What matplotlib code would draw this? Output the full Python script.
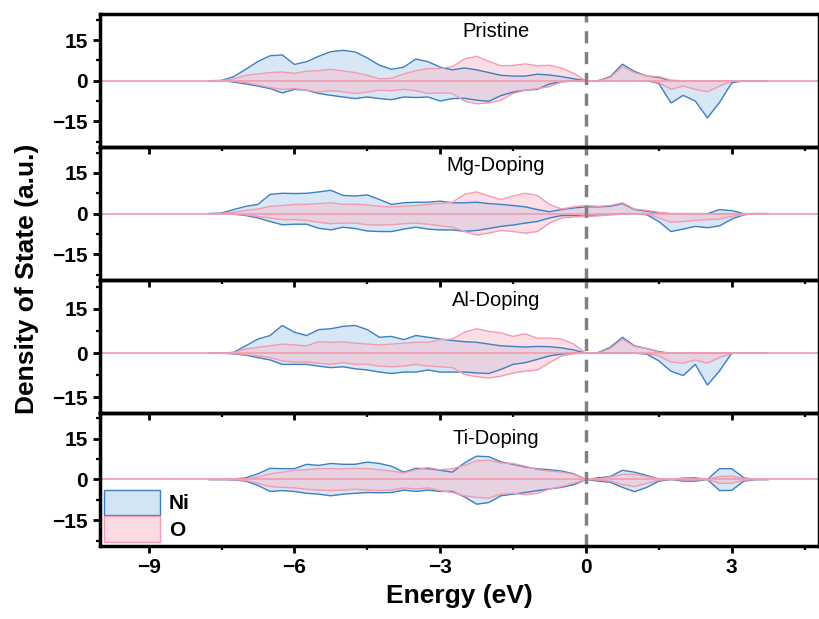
import numpy as np
import matplotlib
matplotlib.use("Agg")
import matplotlib.pyplot as plt
from matplotlib.ticker import MultipleLocator
from matplotlib.patches import Patch

plt.rcParams['font.family'] = ['Liberation Sans', 'DejaVu Sans']

# energy grid (eV), 0.25 eV step
energy = np.arange(-7.75, 3.76, 0.25)

panels = ["Pristine", "Mg-Doping", "Al-Doping", "Ti-Doping"]

# Pristine
ni_up_pristine = [0, 0.1, 1.5, 4.2, 7.1, 9.2, 9.5, 6.0, 7.0, 9.0, 10.7, 11.2, 10.6, 8.4, 5.7, 4.2,
                  5.0, 8.0, 7.0, 5.0, 4.0, 4.7, 4.0, 3.0, 2.0, 1.7, 1.7, 2.4, 2.1, 1.5, 0.7, 0,
                  0, 1.5, 6.1, 3.4, 1.7, 1.2, 0, 0, 0, 0, 0, 0, 0, 0, 0]
o_up_pristine = [0, 0, 0.7, 2.0, 2.5, 3.0, 3.2, 2.7, 3.5, 3.7, 4.2, 3.6, 3.0, 2.0, 0.7, 0.9,
                 2.5, 3.7, 4.5, 4.5, 5.2, 8.0, 9.0, 7.1, 5.5, 5.6, 6.2, 5.5, 5.7, 4.6, 2.7, 0,
                 0, 1.2, 5.2, 3.0, 1.7, 1.5, 0.2, 0, 0, 0, 0, 0, 0, 0, 0]
ni_dn_pristine = [0, 0, -0.5, -1.2, -2.0, -2.9, -4.5, -3.2, -3.5, -4.7, -5.4, -6.0, -6.6, -6.0, -6.6, -7.0,
                  -6.0, -6.2, -6.0, -7.5, -6.6, -6.5, -7.2, -7.6, -5.5, -4.2, -3.5, -3.2, -1.2, -0.4, -0.1, 0,
                  0, 0, 0, 0, 0, -1.0, -8.2, -5.4, -7.5, -13.7, -8.0, -0.8, 0, 0, 0]
o_dn_pristine = [0, 0, -0.2, -0.7, -1.6, -2.5, -3.2, -2.9, -3.5, -4.2, -3.7, -4.1, -4.7, -4.2, -3.5, -3.7,
                 -3.2, -3.7, -4.7, -4.5, -4.7, -7.5, -8.5, -8.2, -7.2, -4.7, -3.5, -2.9, -2.2, -0.4, -0.1, 0,
                 0, 0, 0, 0, 0, -0.7, -3.2, -2.0, -3.2, -4.1, -2.0, -0.1, 0, 0, 0]

# Mg-Doping
ni_up_mg = [0, 0.2, 1.5, 2.7, 3.4, 7.1, 7.5, 7.4, 7.5, 8.0, 8.6, 6.7, 6.5, 6.9, 5.2, 3.4,
            4.0, 4.2, 4.2, 4.6, 4.0, 4.0, 4.2, 3.7, 3.4, 3.0, 2.5, 1.5, 0.7, 1.5, 2.1, 2.5,
            2.5, 2.7, 3.7, 1.5, 0.9, 0.2, 0, 0, 0, 0, 1.5, 1.1, 0, 0, 0]
o_up_mg = [0, 0, 0.5, 1.2, 1.7, 2.7, 3.0, 3.4, 3.4, 3.7, 4.0, 3.4, 3.5, 3.2, 2.7, 2.5,
           2.7, 3.0, 3.4, 3.7, 4.2, 7.1, 8.0, 6.5, 5.2, 6.5, 7.5, 6.7, 3.4, 1.7, 2.5, 3.0,
           2.7, 3.0, 4.0, 1.7, 1.2, 0.5, 0, 0, 0, 0, 0, 0, 0, 0, 0]
ni_dn_mg = [0, 0, -0.2, -0.7, -1.6, -2.9, -4.1, -3.9, -3.9, -5.4, -6.0, -5.0, -5.5, -6.4, -6.6, -6.6,
            -5.7, -5.0, -5.7, -6.0, -6.0, -6.5, -6.2, -5.5, -4.7, -4.2, -3.5, -2.9, -1.6, -0.7, -0.7, -1.0,
            -0.5, -0.2, 0, 0, -0.4, -2.9, -6.6, -5.7, -4.7, -5.2, -4.5, -2.0, -0.4, 0, 0]
o_dn_mg = [0, 0, -0.2, -0.5, -1.0, -1.6, -2.2, -2.2, -2.5, -3.2, -3.7, -3.5, -3.5, -4.1, -4.2, -4.1,
           -3.7, -3.5, -3.9, -4.5, -5.0, -6.6, -7.9, -7.2, -6.2, -6.6, -7.2, -6.6, -3.5, -1.6, -1.2, -1.0,
           -0.8, -0.5, -0.2, 0, 0, -1.6, -3.2, -2.9, -2.5, -2.2, -2.0, -1.0, -0.4, 0, 0]

# Al-Doping
ni_up_al = [0, 0, 0.3, 2.5, 4.8, 6.0, 9.4, 7.1, 6.0, 8.0, 8.3, 9.1, 9.4, 8.0, 5.4, 5.7,
            4.6, 6.0, 5.4, 4.8, 4.3, 3.9, 3.7, 3.1, 2.5, 2.3, 2.1, 2.3, 2.2, 1.8, 1.1, 0,
            0.2, 2.0, 5.4, 2.5, 1.6, 0.5, 0, 0, 0, 0, 0, 0, 0, 0, 0]
o_up_al = [0, 0, 0.2, 1.4, 2.0, 2.5, 3.1, 2.8, 2.5, 3.9, 3.7, 3.9, 3.4, 3.1, 2.8, 3.1,
           3.4, 3.7, 3.7, 4.6, 4.8, 7.1, 8.3, 7.4, 6.9, 5.7, 6.6, 5.1, 5.1, 4.8, 3.1, 0,
           0.1, 1.6, 4.8, 2.3, 1.6, 0.3, 0, 0, 0, 0, 0, 0, 0, 0, 0]
ni_dn_al = [0, 0, -0.2, -0.7, -1.5, -2.3, -3.8, -3.8, -3.8, -4.4, -4.9, -4.6, -5.3, -5.7, -6.4, -6.9,
            -6.4, -6.4, -5.7, -6.4, -6.4, -6.4, -6.7, -6.9, -5.5, -3.8, -3.2, -2.1, -0.9, -0.3, 0, 0,
            0, 0, 0, 0, -0.3, -2.6, -6.1, -7.6, -3.8, -10.8, -6.0, 0, 0, 0, 0]
o_dn_al = [0, 0, -0.1, -0.5, -0.9, -1.5, -2.6, -3.0, -3.0, -3.4, -3.8, -3.2, -3.8, -3.8, -4.4, -4.6,
           -4.4, -3.8, -4.4, -4.6, -4.9, -7.2, -8.0, -8.4, -7.8, -6.7, -6.1, -5.7, -3.2, -0.9, -0.2, 0,
           0, 0, 0, 0, -0.1, -0.9, -3.0, -3.4, -2.3, -3.4, -1.5, 0, 0, 0, 0]

# Ti-Doping
ni_up_ti = [0, 0, 0.2, 0.6, 2.1, 4.1, 4.0, 4.0, 5.6, 5.2, 5.9, 5.6, 5.6, 6.4, 5.9, 4.9,
            2.7, 4.1, 4.0, 3.4, 2.7, 6.1, 8.6, 8.4, 6.5, 5.6, 4.6, 3.9, 3.6, 3.1, 2.1, 0,
            0.6, 1.1, 3.4, 2.7, 1.5, 0.2, 0, 0.5, 0.6, 0, 4.0, 4.0, 0.6, 0, 0]
o_up_ti = [0, 0, 0.1, 0.2, 0.9, 2.1, 2.7, 3.4, 3.6, 4.0, 4.0, 3.9, 4.1, 4.0, 3.6, 3.1,
           2.4, 3.6, 4.4, 3.6, 4.0, 5.2, 6.9, 7.1, 6.1, 5.9, 4.9, 3.6, 3.1, 2.7, 1.9, 0,
           0.2, 0.9, 1.9, 1.9, 1.1, 0.2, 0, 0.2, 0.2, 0, 1.1, 1.3, 0.3, 0, 0]
ni_dn_ti = [0, 0, -0.2, -0.6, -2.2, -4.4, -4.1, -4.4, -5.1, -5.4, -6.0, -5.4, -5.1, -4.8, -4.9, -4.8,
            -3.9, -4.4, -3.9, -4.4, -4.4, -6.4, -9.1, -8.5, -6.0, -5.4, -4.8, -4.1, -3.5, -2.9, -1.9, 0,
            -0.6, -1.0, -2.9, -4.5, -2.9, -0.6, 0, -0.6, -0.6, 0, -4.1, -4.0, -0.6, 0, 0]
o_dn_ti = [0, 0, -0.1, -0.4, -1.4, -2.6, -2.9, -3.1, -3.6, -3.9, -4.1, -3.9, -3.6, -3.9, -4.1, -3.9,
           -3.1, -3.5, -3.1, -4.1, -4.8, -6.0, -6.6, -6.9, -5.4, -5.1, -5.6, -5.1, -3.5, -2.6, -1.4, 0,
           -0.2, -0.6, -1.9, -2.6, -1.4, -0.2, 0, -0.2, -0.2, 0, -1.4, -1.4, -0.3, 0, 0]

ni_data = [(ni_up_pristine, ni_dn_pristine), (ni_up_mg, ni_dn_mg),
           (ni_up_al, ni_dn_al), (ni_up_ti, ni_dn_ti)]
o_data = [(o_up_pristine, o_dn_pristine), (o_up_mg, o_dn_mg),
          (o_up_al, o_dn_al), (o_up_ti, o_dn_ti)]
ylims = [(-24.5, 24.5), (-24.5, 24.5), (-20.3, 24.8), (-24.5, 24.5)]
label_y = [18, 17.6, 18, 15]

ni_line = '#3d7fc0'
ni_fill = '#a9cbea'
o_line = '#f29bb1'
o_fill = '#f9b9c8'

fig, axes = plt.subplots(4, 1, figsize=(8.2, 6.19), dpi=100, sharex=True)
fig.subplots_adjust(left=0.122, right=0.999, top=0.977, bottom=0.118, hspace=0)

for i, ax in enumerate(axes):
    ax.patch.set_visible(False)  # so ticks of the panel above show through
    up, dn = ni_data[i]
    ax.fill_between(energy, up, 0, color=ni_fill, alpha=0.45, lw=0)
    ax.fill_between(energy, dn, 0, color=ni_fill, alpha=0.45, lw=0)
    ax.plot(energy, up, color=ni_line, lw=1)
    ax.plot(energy, dn, color=ni_line, lw=1)
    up, dn = o_data[i]
    ax.fill_between(energy, up, 0, color=o_fill, alpha=0.45, lw=0)
    ax.fill_between(energy, dn, 0, color=o_fill, alpha=0.45, lw=0)
    ax.plot(energy, up, color=o_line, lw=1)
    ax.plot(energy, dn, color=o_line, lw=1)
    ax.axhline(0, color=o_line, lw=1.2)
    ax.axvline(0, color='#808080', lw=2.5, dashes=(3.5, 2.5))
    ax.set_xlim(-10, 4.8)
    ax.set_ylim(*ylims[i])
    ax.set_yticks([-15, 0, 15])
    ax.yaxis.set_minor_locator(MultipleLocator(7.5))
    ax.xaxis.set_major_locator(MultipleLocator(3))
    ax.xaxis.set_minor_locator(MultipleLocator(1.5))
    ax.tick_params(which='major', direction='out', length=5, width=2,
                   labelsize=15)
    ax.tick_params(which='minor', direction='out', length=3, width=1.6)
    for lab in ax.get_yticklabels():
        lab.set_fontweight('bold')
    for sp in ax.spines.values():
        sp.set_linewidth(2.5)
    ax.text(-1.85, label_y[i], panels[i], ha='center', va='center', fontsize=14.5)

for lab in axes[-1].get_xticklabels():
    lab.set_fontweight('bold')
axes[-1].set_xlabel("Energy (eV)", fontsize=19, fontweight='bold', labelpad=5)
fig.text(0.033, 0.55, "Density of State (a.u.)", rotation=90, ha='center', va='center',
         fontsize=19, fontweight='bold')

handles = [Patch(facecolor='#d3e4f4', edgecolor=ni_line, lw=1, label='Ni'),
           Patch(facecolor='#fbdbe3', edgecolor=o_line, lw=1, label='O')]
leg = axes[-1].legend(handles=handles, loc='lower left', frameon=False, fontsize=15,
                      handlelength=2.7, handleheight=1.5, labelspacing=0.05,
                      borderaxespad=0.1, handletextpad=0.4, borderpad=0.1)
for t in leg.get_texts():
    t.set_fontweight('bold')

fig.savefig("out.png", dpi=100)
